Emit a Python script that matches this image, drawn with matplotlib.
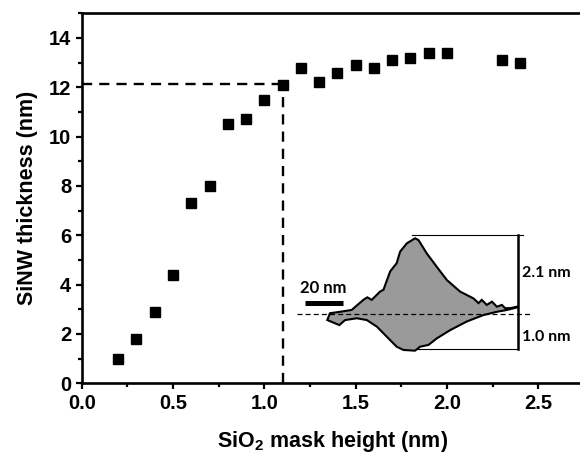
import numpy as np
import matplotlib
matplotlib.use("Agg")
import matplotlib.pyplot as plt
from matplotlib.ticker import MultipleLocator

plt.rcParams['font.family'] = ['Liberation Sans', 'DejaVu Sans']
plt.rcParams['mathtext.fontset'] = 'custom'
plt.rcParams['mathtext.rm'] = 'Liberation Sans:bold'
plt.rcParams['mathtext.default'] = 'rm'

# main data: SiO2 mask height vs SiNW thickness
mask_height = [0.2, 0.3, 0.4, 0.5, 0.6, 0.7, 0.8, 0.9, 1.0, 1.1, 1.2,
               1.3, 1.4, 1.5, 1.6, 1.7, 1.8, 1.9, 2.0, 2.3, 2.4]
thickness = [1.0, 1.8, 2.9, 4.4, 7.3, 8.0, 10.5, 10.7, 11.5, 12.1, 12.8,
             12.2, 12.6, 12.9, 12.8, 13.1, 13.2, 13.4, 13.4, 13.1, 13.0]
guide_x = 1.1
guide_y = 12.15

# inset AFM profile (lateral nm, height nm)
upper_x = [15.8, 17.2, 22.5, 28.5, 34.6, 36.7, 39.0, 43.3, 45.1, 48.6, 52.0,
           53.8, 57.3, 61.6, 63.4, 67.7, 72.9, 78.2, 85.1, 92.1, 94.7, 96.4,
           99.0, 101.7, 104.3, 106.9, 108.6, 111.2, 113.0, 114.7]
upper_h = [-0.16, 0.03, 0.07, 0.12, 0.40, 0.47, 0.40, 0.63, 0.68, 1.19, 1.42,
           1.74, 1.97, 2.11, 2.06, 1.69, 1.32, 0.95, 0.63, 0.44, 0.31, 0.40,
           0.26, 0.35, 0.21, 0.26, 0.17, 0.17, 0.19, 0.21]
lower_x = [15.8, 22.1, 25.1, 31.2, 36.4, 41.6, 46.8, 52.0, 55.5, 61.6, 64.2,
           68.6, 72.9, 79.9, 88.6, 97.3, 104.3, 109.5, 114.7]
lower_h = [-0.16, -0.30, -0.16, -0.11, -0.16, -0.34, -0.62, -0.90, -0.99, -1.01, -0.90,
           -0.85, -0.67, -0.44, -0.20, -0.02, 0.07, 0.12, 0.19]

fig = plt.figure(figsize=(5.8, 4.59), dpi=100)
# axes runs to x=2.75, slightly past the right edge of the figure
ax_left = 81.7
ax_w = 2.75 * 182.6
ax = fig.add_axes([ax_left/580, 1 - 383.3/459, ax_w/580, (383.3 - 13.3)/459])

ax.plot([0, guide_x], [guide_y, guide_y], color='black', lw=1.7, ls=(0, (4.3, 3)))
ax.plot([guide_x, guide_x], [0, guide_y], color='black', lw=1.7, ls=(0, (4.3, 3)))
ax.plot(mask_height, thickness, 's', color='black', ms=7.2)

ax.set_xlim(0, 2.75)
ax.set_ylim(0, 15)
ax.xaxis.set_major_locator(MultipleLocator(0.5))
ax.xaxis.set_minor_locator(MultipleLocator(0.25))
ax.yaxis.set_major_locator(MultipleLocator(2))
ax.yaxis.set_minor_locator(MultipleLocator(1))
ax.spines['right'].set_visible(False)
for s in ['left', 'bottom', 'top']:
    ax.spines[s].set_linewidth(1.9)
ax.tick_params(which='major', direction='out', length=4.5, width=1.6, labelsize=14.5, pad=3)
ax.tick_params(which='minor', direction='out', length=3, width=1.6)
ax.tick_params(top=False, right=False)
for lab in ax.get_xticklabels() + ax.get_yticklabels():
    lab.set_fontweight('bold')
ax.set_xlabel(r'SiO$_2$ mask height (nm)', fontsize=15.5, fontweight='bold', labelpad=12)
ax.set_ylabel('SiNW thickness (nm)', fontsize=15.5, fontweight='bold', labelpad=8)

# inset
ins = fig.add_axes([297/580, 1 - 355/459, (532 - 297)/580, (355 - 230)/459])
ins.set_xlim(0, 122.6)
ins.set_ylim(-1.13, 2.34)
ins.axis('off')
poly_x = upper_x + lower_x[::-1]
poly_h = upper_h + lower_h[::-1]
ins.fill(poly_x, poly_h, facecolor='#9a9a9a', edgecolor='black', lw=1.5)
ins.plot([0, 122.6], [0, 0], color='black', lw=0.9, ls=(0, (4, 2.5)))
ins.plot([59.9, 118], [2.19, 2.19], color='black', lw=0.8)
ins.plot([62.5, 115.2], [-0.96, -0.96], color='black', lw=0.8)
ins.plot([115.2, 115.2], [-0.96, 2.19], color='black', lw=1.8)
ins.plot([4.2, 24.2], [0.31, 0.31], color='black', lw=3.6, solid_capstyle='butt')
ins.text(13.6, 0.5, '20 nm', family='Lato', fontweight='bold', fontsize=12,
         ha='center', va='bottom')
ins.text(117.5, 1.15, '2.1 nm', family='Lato', fontweight='bold', fontsize=11.5,
         ha='left', va='center')
ins.text(117.5, -0.63, '1.0 nm', family='Lato', fontweight='bold', fontsize=11.5,
         ha='left', va='center')

fig.savefig('out.png', dpi=100)
